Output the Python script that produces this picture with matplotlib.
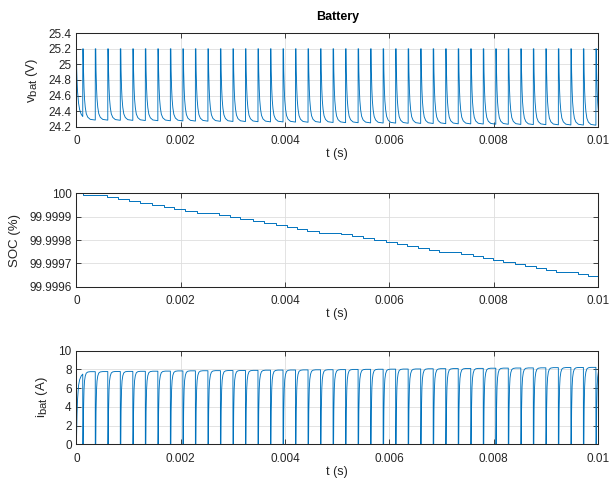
import numpy as np
import matplotlib
matplotlib.use("Agg")
from matplotlib import pyplot as plt
import matplotlib._mathtext as mathtext_internal

plt.rcParams['font.family'] = ['Liberation Sans', 'DejaVu Sans']
plt.rcParams['mathtext.fontset'] = 'custom'
plt.rcParams['mathtext.rm'] = 'Liberation Sans'
# larger subscripts, closer to the reference labels
mathtext_internal.SHRINK_FACTOR = 0.85

# switching waveform: zero-current instants every period, starting at first_edge
period = 0.00024
first_edge = 0.00012
t_end = 0.01

# one cycle (fraction of period -> normalised value)
cycle_frac = [0.0, 0.04, 0.06, 0.10, 0.14, 0.20, 0.28, 0.40, 0.60, 1.0]
i_shape = [0.0, 0.0, 0.45, 0.75, 0.87, 0.94, 0.98, 0.995, 1.0, 1.0]
v_shape = [0.0, 0.0, 0.30, 0.55, 0.70, 0.82, 0.91, 0.96, 0.99, 1.0]

# peak current and voltage floor of every cycle
i_peak = [7.76, 7.77, 7.78, 7.79, 7.80, 7.81, 7.82, 7.84, 7.85, 7.86,
          7.87, 7.88, 7.89, 7.90, 7.92, 7.93, 7.94, 7.95, 7.96, 7.97,
          7.98, 8.00, 8.01, 8.02, 8.03, 8.04, 8.05, 8.07, 8.08, 8.09,
          8.10, 8.11, 8.13, 8.14, 8.15, 8.16, 8.17, 8.19, 8.20, 8.21,
          8.22, 8.23]
v_min = [24.285, 24.284, 24.282, 24.281, 24.279, 24.277, 24.276, 24.274, 24.272, 24.271,
         24.269, 24.267, 24.266, 24.264, 24.262, 24.261, 24.259, 24.257, 24.256, 24.254,
         24.252, 24.251, 24.249, 24.247, 24.246, 24.244, 24.242, 24.241, 24.239, 24.237,
         24.236, 24.234, 24.232, 24.231, 24.229, 24.227, 24.226, 24.224, 24.222, 24.221,
         24.219, 24.217]
v_max = 25.2

# start-up segment before the first switching edge
t_start = [0.0, 0.000003, 0.00001, 0.00002, 0.00004, 0.00006, 0.00009, 0.00012]
i_start = [0.6, 1.5, 3.2, 4.8, 6.3, 6.9, 7.3, 7.5]
v_start = [25.2, 24.95, 24.80, 24.65, 24.50, 24.42, 24.36, 24.33]

# SOC staircase (step times and the level after each step)
soc_step_t = [0.00012, 0.00058, 0.000804, 0.00101, 0.00122, 0.001446, 0.00167, 0.001875,
              0.00209, 0.00231, 0.00273, 0.00295, 0.00314, 0.00338, 0.00359, 0.00382,
              0.00403, 0.00423, 0.004427, 0.00465, 0.005067, 0.005292, 0.005485, 0.005708,
              0.005933, 0.006144, 0.006337, 0.006542, 0.006766, 0.006958, 0.007375, 0.0076,
              0.007792, 0.007985, 0.008177, 0.0084, 0.008592, 0.008817, 0.00901, 0.009202,
              0.009619, 0.009812, 0.01]
soc_level = [99.9999916, 99.9999832, 99.9999748, 99.9999664, 99.9999580, 99.9999496,
             99.9999412, 99.9999328, 99.9999244, 99.9999160, 99.9999076, 99.9998992,
             99.9998908, 99.9998824, 99.9998740, 99.9998656, 99.9998572, 99.9998488,
             99.9998404, 99.9998320, 99.9998236, 99.9998152, 99.9998068, 99.9997984,
             99.9997900, 99.9997816, 99.9997732, 99.9997648, 99.9997564, 99.9997480,
             99.9997396, 99.9997312, 99.9997228, 99.9997144, 99.9997060, 99.9996976,
             99.9996892, 99.9996808, 99.9996724, 99.9996640, 99.9996556, 99.9996472,
             99.9996388]

x_ticks = [0, 0.002, 0.004, 0.006, 0.008, 0.01]
x_ticklabels = ['0', '0.002', '0.004', '0.006', '0.008', '0.01']
v_ticks = [24.2, 24.4, 24.6, 24.8, 25.0, 25.2, 25.4]
v_ticklabels = ['24.2', '24.4', '24.6', '24.8', '25', '25.2', '25.4']
soc_ticks = [99.9996, 99.9997, 99.9998, 99.9999, 100.0]
soc_ticklabels = ['99.9996', '99.9997', '99.9998', '99.9999', '100']
i_ticks = [0, 2, 4, 6, 8, 10]
i_ticklabels = ['0', '2', '4', '6', '8', '10']

# build the waveforms cycle by cycle
t_list = [np.array(t_start)]
i_list = [np.array(i_start)]
v_list = [np.array(v_start)]
frac = np.array(cycle_frac)
for k in range(len(i_peak)):
    t_list.append(first_edge + k * period + frac * period)
    i_list.append(i_peak[k] * np.array(i_shape))
    v_list.append(v_max - (v_max - v_min[k]) * np.array(v_shape))
t = np.concatenate(t_list)
i_bat = np.concatenate(i_list)
v_bat = np.concatenate(v_list)

soc_t = [0.0] + soc_step_t
soc = [100.0] + soc_level

blue = '#0072BD'
dark = '#262626'

fig = plt.figure(figsize=(6.11, 4.78), dpi=100)
ax1 = fig.add_axes([0.1252, 0.7350, 0.8535, 0.1954])
ax2 = fig.add_axes([0.1252, 0.4002, 0.8535, 0.1954])
ax3 = fig.add_axes([0.1252, 0.0705, 0.8535, 0.1958])

ax1.plot(t, v_bat, color=blue, lw=0.65)
ax2.step(soc_t, soc, where='post', color=blue, lw=0.7)
ax3.plot(t, i_bat, color=blue, lw=0.65)

ax1.set_ylim(24.2, 25.4)
ax1.set_yticks(v_ticks)
ax1.set_yticklabels(v_ticklabels)
ax1.set_ylabel(r'$\mathregular{v_{bat}}$ (V)', fontsize=9.5, color=dark, labelpad=6)
ax1.set_title('Battery', fontsize=9, fontweight='bold', color='black', pad=9.5)

ax2.set_ylim(99.9996, 100.0)
ax2.set_yticks(soc_ticks)
ax2.set_yticklabels(soc_ticklabels)
ax2.set_ylabel('SOC (%)', fontsize=9.5, color=dark, labelpad=6)

ax3.set_ylim(0, 10)
ax3.set_yticks(i_ticks)
ax3.set_yticklabels(i_ticklabels)
ax3.set_ylabel(r'$\mathregular{i_{bat}}$ (A)', fontsize=9.5, color=dark, labelpad=6)

for ax in (ax1, ax2, ax3):
    ax.set_xlim(0, t_end)
    ax.set_xticks(x_ticks)
    ax.set_xticklabels(x_ticklabels)
    ax.set_xlabel('t (s)', fontsize=9, color=dark, labelpad=1)
    ax.grid(True, color='#dedede', lw=0.6)
    ax.set_axisbelow(True)
    ax.tick_params(direction='in', length=3.5, width=0.6, labelsize=8.5,
                   colors=dark, top=True, right=True)
    ax.tick_params(axis='x', pad=6)
    ax.tick_params(axis='y', pad=3.5)
    for s in ax.spines.values():
        s.set_color(dark)
        s.set_linewidth(0.75)

fig.savefig('out.png', dpi=100)
